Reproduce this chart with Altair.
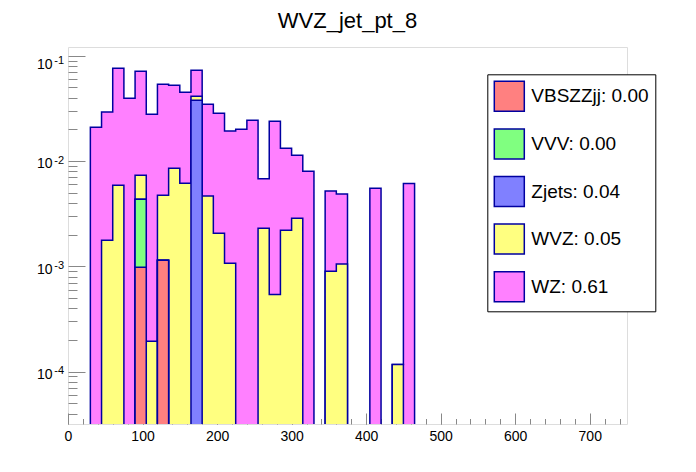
import altair as alt
import pandas as pd

FONT = "Liberation Sans"
TITLE = "WVZ_jet_pt_8"
BIN_WIDTH = 15
N_BINS = 50
X_DOMAIN = [0, 750]
Y_DOMAIN = [3.18e-5, 0.121]
LINE_FLOOR = 3e-6

# stack order: bottom -> top
SERIES = ["VBSZZjj", "VVV", "Zjets", "WVZ", "WZ"]
FILL_COLORS = ["#ff8080", "#80ff80", "#8080ff", "#ffff80", "#ff80ff"]
LINE_COLOR = "#0000a0"

VBSZZJJ = [0, 0, 0, 0, 0, 0, 0.00098, 0, 0.00114, 0,
           0, 0, 0, 0, 0, 0, 0, 0, 0, 0,
           0, 0, 0, 0, 0, 0, 0, 0, 0, 0,
           0, 0, 0, 0, 0, 0, 0, 0, 0, 0,
           0, 0, 0, 0, 0, 0, 0, 0, 0, 0]
VVV = [0, 0, 0, 0, 0, 0, 0.00335, 0, 0, 0,
       0, 0, 0, 0, 0, 0, 0, 0, 0, 0,
       0, 0, 0, 0, 0, 0, 0, 0, 0, 0,
       0, 0, 0, 0, 0, 0, 0, 0, 0, 0,
       0, 0, 0, 0, 0, 0, 0, 0, 0, 0]
ZJETS = [0, 0, 0, 0, 0, 0, 0, 0, 0, 0,
         0, 0.0377, 0, 0, 0, 0, 0, 0, 0, 0,
         0, 0, 0, 0, 0, 0, 0, 0, 0, 0,
         0, 0, 0, 0, 0, 0, 0, 0, 0, 0,
         0, 0, 0, 0, 0, 0, 0, 0, 0, 0]
WVZ = [0, 0, 0, 0.00177, 0.00588, 0, 0.00298, 0.000194, 0.00358, 0.00853,
       0.00614, 0.00345, 0.00465, 0.00206, 0.00107, 0, 0, 0.0023, 0.00054, 0.0022,
       0.00286, 0, 0, 0.0009, 0.00105, 0, 0, 0, 0, 0.000117,
       0, 0, 0, 0, 0, 0, 0, 0, 0, 0,
       0, 0, 0, 0, 0, 0, 0, 0, 0, 0]
WZ = [0, 0, 0.0209, 0.0274, 0.0700, 0.0394, 0.0638, 0.0276, 0.0488, 0.0438,
      0.0388, 0.0315, 0.0299, 0.0263, 0.0182, 0.0200, 0.0244, 0.0045, 0.0233, 0.0110,
      0.0085, 0.0080, 0, 0.0043, 0.0038, 0, 0, 0.0055, 0, 0,
      0.0061, 0, 0, 0, 0, 0, 0, 0, 0, 0,
      0, 0, 0, 0, 0, 0, 0, 0, 0, 0]

X_MAJOR = [0, 100, 200, 300, 400, 500, 600, 700]
X_MINOR = list(range(0, 751, 20))
Y_MAJOR = [1e-4, 1e-3, 1e-2, 1e-1]
Y_MINOR = [k * 10.0 ** e for e in (-5, -4, -3, -2) for k in range(2, 10)
           if Y_DOMAIN[0] <= k * 10.0 ** e <= Y_DOMAIN[1]]

VALUES = dict(zip(SERIES, [VBSZZJJ, VVV, ZJETS, WVZ, WZ]))
LABELS = [f"{s}: {sum(VALUES[s]):.2f}" for s in SERIES]

edges = [i * BIN_WIDTH for i in range(N_BINS + 1)]
frames = {}
cum = [0.0] * N_BINS
for s, lab in zip(SERIES, LABELS):
    cum = [c + v for c, v in zip(cum, VALUES[s])]
    tops = [c if c > 0 else LINE_FLOOR for c in cum]
    tops = tops + [tops[-1]]
    frames[s] = pd.DataFrame({"x": edges, "top": tops, "label": lab})

xs = alt.Scale(domain=X_DOMAIN, nice=False, zero=False)
ys = alt.Scale(type="log", domain=Y_DOMAIN, nice=False)
cs = alt.Scale(domain=LABELS, range=FILL_COLORS)

legend = alt.Legend(
    title=None, orient="none", legendX=419.3, legendY=27.3, direction="vertical",
    symbolType="square", symbolSize=900, symbolStrokeColor=LINE_COLOR,
    symbolStrokeWidth=1.5, symbolOpacity=1,
    labelFont=FONT, labelFontSize=19, labelColor="black", labelOffset=6,
    labelLimit=0, rowPadding=11.6, padding=6,
    strokeColor="black", fillColor="white", cornerRadius=0,
)

common = dict(domain=False, grid=False, title=None, labelFlush=False, labelOverlap=False)

x_major = alt.Axis(values=X_MAJOR, orient="bottom", tickSize=11, offset=-11,
                   labelPadding=16, labelBaseline="alphabetic", labelAlign="center",
                   format="d", labelFontSize=14, **common)
x_minor = alt.Axis(values=X_MINOR, orient="bottom", tickSize=5.5, offset=-5.5,
                   labels=False, **common)
y_major = alt.Axis(values=Y_MAJOR, orient="left", tickSize=17, offset=-17,
                   labelPadding=16, labelExpr="'10'", labelAlign="right",
                   labelBaseline="alphabetic", labelFontSize=14,
                   labelOffset={"condition": {"test": "datum.value > 0.05", "value": 12.6},
                                "value": 6.7},
                   **common)
y_minor = alt.Axis(values=Y_MINOR, orient="left", tickSize=9, offset=-9,
                   labels=False, **common)
y_exp = alt.Axis(values=Y_MAJOR, orient="left", ticks=False, tickSize=0,
                 labelPadding=4.5,
                 labelExpr="'-' + round(-log(datum.value) / LN10)",
                 labelAlign="right", labelBaseline="alphabetic", labelFontSize=11,
                 labelOffset={"condition": {"test": "datum.value > 0.05", "value": 7.6},
                              "value": 2.3},
                 **common)

axis_plan = {
    "WZ": ((x_major, y_major), (x_minor, y_minor)),
    "WVZ": ((None, y_exp), (None, None)),
}

layers = []
for s in reversed(SERIES):
    df = frames[s]
    (xa_f, ya_f), (xa_l, ya_l) = axis_plan.get(s, ((None, None), (None, None)))
    area = alt.Chart(df).mark_area(interpolate="step-after", clip=True, opacity=1).encode(
        x=alt.X("x:Q", scale=xs, axis=xa_f),
        y=alt.Y("top:Q", scale=ys, axis=ya_f),
        y2=alt.datum(Y_DOMAIN[0]),
        color=alt.Color("label:N", scale=cs, legend=legend),
    )
    line = alt.Chart(df).mark_line(interpolate="step-after", clip=True,
                                   color=LINE_COLOR, strokeWidth=1.5).encode(
        x=alt.X("x:Q", scale=xs, axis=xa_l),
        y=alt.Y("top:Q", scale=ys, axis=ya_l),
    )
    layers += [area, line]

chart = (
    alt.layer(*layers)
    .resolve_axis(x="independent", y="independent")
    .properties(
        width=559, height=377,
        title=alt.TitleParams(TITLE, font=FONT, fontSize=22, fontWeight="normal",
                              anchor="middle", frame="group", baseline="alphabetic",
                              offset=-3, color="black"),
        padding={"left": 60, "top": 39, "right": 61, "bottom": 40},
        autosize=alt.AutoSizeParams(type="none"),
    )
    .configure_view(stroke="black", strokeWidth=1)
    .configure_axis(labelFont=FONT, labelColor="black", tickColor="black", tickWidth=1)
    .configure(background="white")
)

chart.save("out.html", embed_options={"renderer": "svg", "actions": False})
